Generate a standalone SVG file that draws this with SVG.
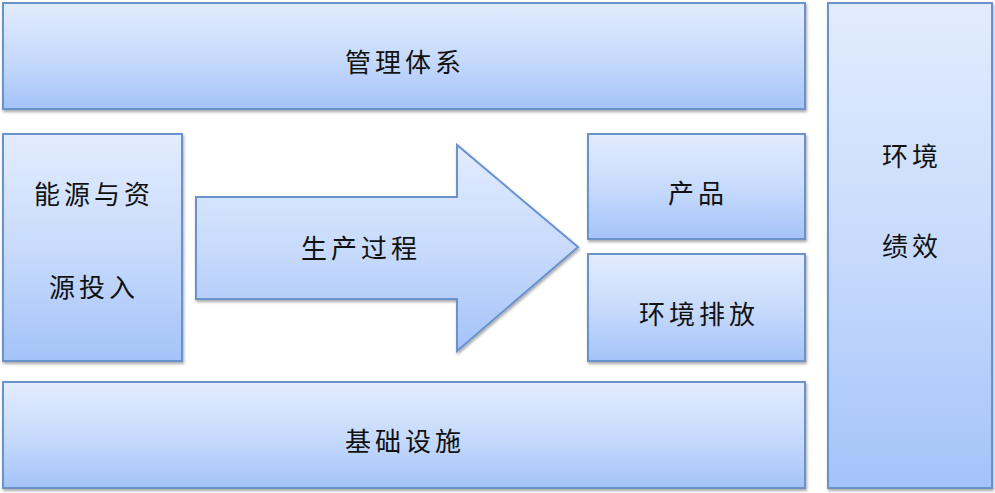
<svg xmlns="http://www.w3.org/2000/svg" width="995" height="493" viewBox="0 0 995 493">
<defs>
<linearGradient id="g" x1="0" y1="0" x2="0" y2="1">
<stop offset="0" stop-color="#e2ecfe"/>
<stop offset="0.5" stop-color="#c8dbfc"/>
<stop offset="1" stop-color="#a4c3f9"/>
</linearGradient>
<filter id="sh" x="-5%" y="-5%" width="110%" height="115%">
<feGaussianBlur in="SourceAlpha" stdDeviation="1.5"/>
<feOffset dx="1" dy="2" result="b"/>
<feComponentTransfer><feFuncA type="linear" slope="0.35"/></feComponentTransfer>
<feMerge><feMergeNode/><feMergeNode in="SourceGraphic"/></feMerge>
</filter>
</defs>
<style>
.b{fill:url(#g);stroke:#6a93cb;stroke-width:2;filter:url(#sh)}
.t{font-family:"Noto Sans CJK SC","Noto Sans",sans-serif;font-size:26px;letter-spacing:4px;fill:#111;text-anchor:middle;dominant-baseline:central}
</style>
<rect width="995" height="493" fill="#fff"/>
<g id="mgmt"><rect class="b" x="3" y="3" width="802" height="106"/><text class="t" x="405" y="60">管理体系</text></g>
<g id="env-perf"><rect class="b" x="828" y="3" width="164" height="485"/><text class="t" x="912" y="154">环境</text><text class="t" x="912" y="244">绩效</text></g>
<g id="input"><rect class="b" x="3" y="134" width="179" height="227"/><text class="t" x="94" y="192">能源与资</text><text class="t" x="94" y="285">源投入</text></g>
<g id="process"><path class="b" d="M196,197 H457 V145 L578,247 L457,351 V299 H196 Z"/><text class="t" x="361" y="246">生产过程</text></g>
<g id="product"><rect class="b" x="588" y="134" width="217" height="105"/><text class="t" x="698" y="191">产品</text></g>
<g id="emission"><rect class="b" x="588" y="254" width="217" height="107"/><text class="t" x="699" y="312">环境排放</text></g>
<g id="infra"><rect class="b" x="3" y="382" width="802" height="106"/><text class="t" x="405" y="439">基础设施</text></g>
<g id="connectors"/>
</svg>
